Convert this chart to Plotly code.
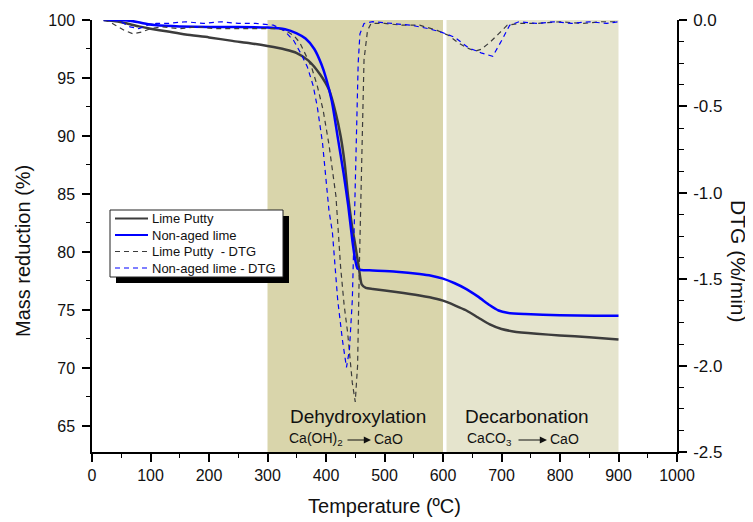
import plotly.graph_objects as go

FONT = "Liberation Sans, Arial, sans-serif"

# ---- TG data (left axis, %) ----
lp_T = [20, 40, 60, 80, 100, 130, 160, 200, 240, 270, 300, 330, 350, 370, 390, 405, 417, 425,
        432, 438, 444, 450, 456, 461, 468, 480, 520, 560, 590, 600, 620, 640, 660, 680, 700,
        720, 760, 800, 850, 900]
lp_TG = [100, 99.9, 99.7, 99.45, 99.25, 99.0, 98.75, 98.5, 98.2, 98.0, 97.75, 97.45, 97.15,
         96.5, 95.3, 94.0, 91.9, 90.0, 87.6, 84.7, 82.4, 80.6, 78.7, 77.2, 76.9, 76.8, 76.55,
         76.25, 75.95, 75.8, 75.4, 74.95, 74.35, 73.75, 73.35, 73.15, 72.95, 72.8, 72.65, 72.45]

na_T = [20, 50, 70, 90, 110, 150, 200, 250, 300, 330, 350, 365, 380, 392, 400, 410, 420, 430,
        438, 445, 450, 454, 460, 480, 520, 560, 580, 600, 620, 640, 660, 680, 695, 710, 740,
        800, 860, 900]
na_TG = [100, 100, 99.9, 99.7, 99.55, 99.45, 99.4, 99.4, 99.35, 99.2, 98.85, 98.4, 97.5, 96.2,
         95.0, 93.0, 89.9, 86.8, 84.0, 81.0, 79.3, 78.55, 78.45, 78.4, 78.3, 78.1, 77.95, 77.7,
         77.3, 76.8, 76.15, 75.4, 74.95, 74.75, 74.65, 74.55, 74.5, 74.5]

# ---- DTG data (right axis, %/min) ----
lpd_T = [20, 30, 40, 55, 70, 85, 100, 120, 150, 180, 210, 240, 270, 300, 320, 335, 345, 355,
         365, 375, 385, 395, 405, 417, 425, 431, 437, 445, 450, 454, 457, 460, 462, 465, 471,
         477, 500, 530, 560, 590, 610, 625, 640, 655, 665, 680, 695, 710, 730, 760, 800, 840,
         870, 900]
lpd_DTG = [0, -0.01, -0.03, -0.06, -0.08, -0.07, -0.05, -0.04, -0.05, -0.04, -0.05, -0.05,
           -0.05, -0.05, -0.05, -0.07, -0.09, -0.13, -0.2, -0.27, -0.38, -0.52, -0.72, -1.02,
           -1.43, -1.65, -1.81, -2.1, -2.21, -2.0, -1.43, -1.04, -0.71, -0.23, -0.06, -0.02,
           -0.02, -0.03, -0.03, -0.06, -0.09, -0.13, -0.16, -0.18, -0.17, -0.13, -0.08, -0.03,
           -0.02, -0.02, -0.01, -0.02, -0.01, -0.01]

nad_T = [20, 35, 50, 65, 80, 95, 110, 130, 160, 190, 220, 250, 280, 310, 328, 345, 358, 368,
         378, 385, 394, 400, 405, 411, 420, 428, 435, 440, 445, 449, 452, 455, 458, 465, 480,
         510, 545, 575, 597, 620, 643, 665, 685, 700, 714, 730, 760, 790, 820, 850, 880, 900]
nad_DTG = [0, 0, -0.01, -0.04, -0.05, -0.03, -0.02, -0.02, -0.01, -0.02, -0.01, -0.02, -0.02,
           -0.03, -0.06, -0.12, -0.2, -0.27, -0.38, -0.5, -0.71, -0.91, -1.1, -1.23, -1.62,
           -1.85, -2.01, -1.91, -1.62, -1.1, -0.6, -0.25, -0.08, -0.02, -0.01, -0.02, -0.03,
           -0.05, -0.07, -0.1, -0.16, -0.19, -0.21, -0.12, -0.03, -0.01, -0.02, -0.01, -0.02,
           -0.01, -0.02, -0.01]

series_names = ["Lime Putty", "Non-aged lime", "Lime Putty\u00a0 - DTG", "Non-aged lime - DTG"]
x_ticks = list(range(0, 1001, 100))
left_ticks = [65, 70, 75, 80, 85, 90, 95, 100]
right_ticks = [0.0, -0.5, -1.0, -1.5, -2.0, -2.5]
right_ticktext = ["0.0", "-0.5", "-1.0", "-1.5", "-2.0", "-2.5"]

GRAY = "#3c3c3c"
BLUE = "#0000ff"
TXT = "#111111"
styles = [
    dict(color=GRAY, width=2.5),
    dict(color=BLUE, width=2.5),
    dict(color=GRAY, width=1.2, dash="5px,4px"),
    dict(color=BLUE, width=1.2, dash="5px,4px"),
]

fig = go.Figure()
fig.add_trace(go.Scatter(x=lp_T, y=lp_TG, mode="lines", name=series_names[0], showlegend=False,
                         line=dict(**styles[0], shape="spline", smoothing=0.6)))
fig.add_trace(go.Scatter(x=na_T, y=na_TG, mode="lines", name=series_names[1], showlegend=False,
                         line=dict(**styles[1], shape="spline", smoothing=0.6)))
fig.add_trace(go.Scatter(x=lpd_T, y=lpd_DTG, mode="lines", name=series_names[2], yaxis="y2",
                         showlegend=False, line=styles[2]))
fig.add_trace(go.Scatter(x=nad_T, y=nad_DTG, mode="lines", name=series_names[3], yaxis="y2",
                         showlegend=False, line=styles[3]))

# page has an 8px body margin: figure drawn at (8, 8)
OFF = 8
W, H = 753 - OFF, 522 - OFF
PL, PR, PT, PB = 92, 677, 20, 452   # plot-area edges in page pixels
ML, MR, MT, MB = PL - OFF, OFF + W - PR, PT - OFF, OFF + H - PB
PW, PH = PR - PL, PB - PT


def px2paper_x(px):
    return (px - PL) / PW


def px2paper_y(py):
    return (PB - py) / PH


shapes = [
    dict(type="rect", xref="x", yref="paper", x0=300, x1=600, y0=0, y1=1,
         fillcolor="#d9d5ab", line=dict(width=0), layer="below"),
    dict(type="rect", xref="x", yref="paper", x0=606, x1=900, y0=0, y1=1,
         fillcolor="#e5e4cd", line=dict(width=0), layer="below"),
]

# custom legend: shadow, box, line samples, labels
LX0, LX1, LY0, LY1 = 110, 283, 210, 277
shapes.append(dict(type="rect", xref="paper", yref="paper",
                   x0=px2paper_x(LX0 + 6), x1=px2paper_x(LX1 + 6),
                   y0=px2paper_y(LY1 + 6), y1=px2paper_y(LY0 + 6),
                   fillcolor="black", line=dict(width=0), layer="above"))
shapes.append(dict(type="rect", xref="paper", yref="paper",
                   x0=px2paper_x(LX0), x1=px2paper_x(LX1),
                   y0=px2paper_y(LY1), y1=px2paper_y(LY0),
                   fillcolor="white", line=dict(color="#222", width=1), layer="above"))


def txt(text, px, py, size, xanchor="center", angle=0):
    return dict(text=text, x=px2paper_x(px), y=px2paper_y(py), xref="paper", yref="paper",
                xanchor=xanchor, yanchor="middle", textangle=angle, showarrow=False,
                font=dict(family=FONT, size=size, color=TXT))


annotations = []
row_y = [218.5, 235, 251.5, 268]
for i, name in enumerate(series_names):
    st = styles[i]
    shapes.append(dict(type="line", xref="paper", yref="paper",
                       x0=px2paper_x(115), x1=px2paper_x(148),
                       y0=px2paper_y(row_y[i]), y1=px2paper_y(row_y[i]),
                       line=dict(color=st["color"], width=min(st["width"], 2),
                                 dash=st.get("dash", "solid")), layer="above"))
    annotations.append(txt(name, 150, row_y[i], 13, xanchor="left"))

annotations += [
    txt("Dehydroxylation", 358, 416, 19),
    txt("Decarbonation", 527, 416, 19),
    txt("Ca(OH)<sub>2</sub>", 345, 439, 14, xanchor="right"),
    txt("CaO", 372, 439, 14, xanchor="left"),
    txt("CaCO<sub>3</sub>", 514, 439, 14, xanchor="right"),
    txt("CaO", 548, 439, 14, xanchor="left"),
    dict(text="", x=px2paper_x(371), y=px2paper_y(440), ax=-25, ay=0, xref="paper", yref="paper",
         axref="pixel", ayref="pixel", showarrow=True,
         arrowhead=2, arrowsize=1.2, arrowwidth=1.2, arrowcolor=TXT),
    dict(text="", x=px2paper_x(547), y=px2paper_y(440), ax=-30, ay=0, xref="paper", yref="paper",
         axref="pixel", ayref="pixel", showarrow=True,
         arrowhead=2, arrowsize=1.2, arrowwidth=1.2, arrowcolor=TXT),
    txt("Mass reduction (%)", 23, 251, 20, angle=-90),
    txt("DTG (%/min)", 739, 261, 21, angle=90),
]

axis_common = dict(showgrid=False, zeroline=False, showline=True, linecolor="black",
                   linewidth=1.5, ticks="outside", ticklen=8, tickwidth=1.5, tickcolor="black")

fig.update_layout(
    width=W, height=H,
    margin=dict(l=ML, r=MR, t=MT, b=MB, autoexpand=False),
    paper_bgcolor="white", plot_bgcolor="white",
    font=dict(family=FONT, size=16, color=TXT),
    shapes=shapes, annotations=annotations,
    showlegend=False,
    xaxis=dict(range=[0, 1000], tickvals=x_ticks, **axis_common,
               minor=dict(dtick=50, ticks="outside", ticklen=4, tickwidth=1.2, tickcolor="black"),
               title=dict(text="Temperature (\u00baC)", font=dict(family=FONT, size=20), standoff=16),
               tickfont=dict(size=16)),
    yaxis=dict(range=[62.75, 100], tickvals=left_ticks, **axis_common,
               minor=dict(dtick=2.5, ticks="outside", ticklen=4, tickwidth=1.2, tickcolor="black"),
               tickfont=dict(size=16), ticklabelstandoff=4),
    yaxis2=dict(range=[-2.5, 0], tickvals=right_ticks, ticktext=right_ticktext, overlaying="y",
                side="right", **axis_common,
                minor=dict(dtick=0.125, ticks="outside", ticklen=5, tickwidth=1.2, tickcolor="black"),
                tickfont=dict(size=17), ticklabelstandoff=3),
)

fig.write_html("out.html")
